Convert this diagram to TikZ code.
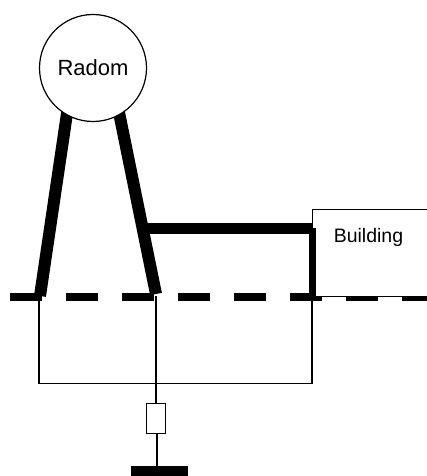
\documentclass[tikz,border=0pt]{standalone}
\usepackage{fontspec}
\setmainfont{Liberation Sans}
\usetikzlibrary{positioning}

\begin{document}
\begin{tikzpicture}[x=1pt,y=-1pt]
  \tikzstyle{leg} = [line width=12pt]
  \tikzstyle{thin} = [line width=1.2pt]
  \tikzstyle{wall} = [draw,line width=1.2pt,fill=white]
  \useasboundingbox (0,0) rectangle (427,476);
  % ground level
  \coordinate (gndl) at (10,296.5);
  \coordinate (gndr) at (427,296.5);
  \draw [line width=8pt, dash pattern=on 32pt off 24pt] (gndl) -- (gndr);
  % building runs off to the right
  \node (build) [wall, rectangle, minimum width=130pt, minimum height=87pt, inner sep=0pt, anchor=north west] at (312,209) {};
  \node (buildtxt) at (368.5,237) {\fontsize{19.5}{22}\selectfont Building};
  % thin loop below ground
  \coordinate (footl) at (39,296);
  \coordinate (footm) at (156,296);
  \coordinate (footr) at (312,296);
  \coordinate (loopl) at (39,383.5);
  \coordinate (loopr) at (312,383.5);
  \draw [thin] (footl) -- (loopl) -- (loopr) -- (footr);
  \node (res) [draw, thin, rectangle, minimum width=19pt, minimum height=30pt, inner sep=0pt, anchor=north] at (156,403) {};
  \node (earth) [fill=black, rectangle, minimum width=57pt, minimum height=10pt, inner sep=0pt, anchor=north] at (159.5,466) {};
  \coordinate (stem) at (157,433);
  \draw [thin] (footm) -- (res.north);
  \draw [thin] (stem) -- (stem |- earth.north);
  % radom and legs
  \coordinate (legla) at (67.5,110);
  \coordinate (leglb) at (40,296);
  \coordinate (legra) at (118.5,110);
  \coordinate (legrb) at (156,294);
  \coordinate (join) at (146,228);
  \coordinate (corner) at (312,228);
  \coordinate (wallb) at (312,296);
  \draw [leg] (legla) -- (leglb);
  \draw [leg] (legra) -- (legrb);
  \draw [line width=11pt] (join) -- (corner);
  \draw [line width=7pt] (corner) -- (wallb);
  \node (radom) [wall, circle, minimum size=107pt, inner sep=0pt] at (93,68) {\fontsize{22}{24}\selectfont Radom};
\end{tikzpicture}
\end{document}
